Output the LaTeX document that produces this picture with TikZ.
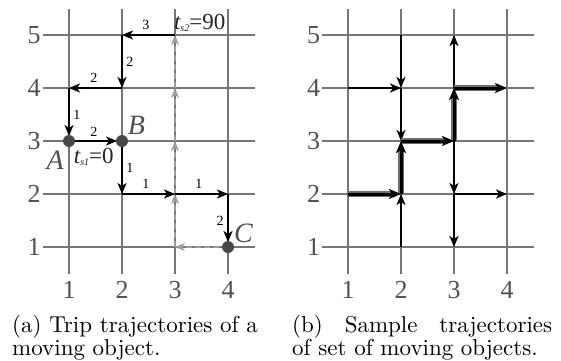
\documentclass[tikz,border=0pt]{standalone}
\usepackage{fontspec}
\newfontfamily\lab{Liberation Serif}
\newfontfamily\capfont{lmroman10-regular}[Extension=.otf]
\usetikzlibrary{arrows.meta}
\definecolor{gridc}{HTML}{767676}
\definecolor{labc}{HTML}{505050}
\definecolor{dotc}{HTML}{484848}
\definecolor{dashc}{HTML}{9C9C9C}
\definecolor{haloc}{HTML}{6E6E6E}
\tikzset{
  gridline/.style={draw=gridc, line width=1.4pt},
  arr/.style={draw=black, line width=2.3pt, -{Stealth[length=11pt,width=9pt,inset=3pt]}},
  garr/.style={draw=dashc, line width=1.5pt, dash pattern=on 6pt off 3pt, -{Stealth[length=10pt,width=8pt,inset=3pt]}},
  halo/.style={draw=haloc, line width=5.5pt, shorten >=9pt},
  tharr/.style={draw=black, line width=3pt, -{Stealth[length=12pt,width=10pt,inset=3pt]}},
  axl/.style={font=\lab\fontsize{26}{26}\selectfont, text=labc, inner sep=0pt},
  ptl/.style={font=\lab\itshape\fontsize{28}{28}\selectfont, text=labc, inner sep=0pt},
  sml/.style={font=\lab\fontsize{14}{14}\selectfont, text=black, inner sep=0pt},
  tl/.style={font=\lab\fontsize{23}{23}\selectfont, text=black!85, inner sep=0pt},
  dot/.style={circle, fill=dotc, inner sep=0pt, minimum size=12pt},
  captext/.style={font=\capfont\fontsize{23}{23}\selectfont, inner sep=0pt,
    anchor=base west, text height=12pt, text depth=0pt},
}
\begin{document}
\begin{tikzpicture}[x=1pt,y=1pt]
\useasboundingbox (0,0) rectangle (561,360);
% ---------------- left panel ----------------
\begin{scope}[shift={(16pt,60pt)},x=53pt,y=53pt]
  \foreach \i in {1,...,4} \draw[gridline] (\i,0.5) -- (\i,5.5);
  \foreach \j in {1,...,5} \draw[gridline] (0.5,\j) -- (4.5,\j);
  \foreach \i in {1,...,4}{\foreach \j in {1,...,5}{\coordinate (a\i\j) at (\i,\j);}}
  \foreach \j in {1,...,5} \node[axl, anchor=east] (ay\j) at (0.47,\j) {\j};
  \foreach \i in {1,...,4} \node[axl, anchor=base] (ax\i) at (\i,0.02) {\i};
  % grey dashed trip
  \draw[garr] (a41) -- (a31);
  \draw[garr] (a31) -- (a32);
  \draw[garr] (a32) -- (a33);
  \draw[garr] (a33) -- (a34);
  \draw[garr] (a34) -- (a35);
  % black trips
  \draw[arr, shorten >=5pt] (a13) -- (a23);
  \draw[arr] (a23) -- (a22);
  \draw[arr] (a22) -- (a32);
  \draw[arr] (a32) -- (a42);
  \draw[arr, shorten >=5pt] (a42) -- (a41);
  \draw[arr] (a35) -- (a25);
  \draw[arr] (a25) -- (a24);
  \draw[arr] (a24) -- (a14);
  \draw[arr, shorten >=5pt] (a14) -- (a13);
  % dots
  \node[dot] (A) at (a13) {};
  \node[dot] (B) at (a23) {};
  \node[dot] (C) at (a41) {};
  \node[ptl] (lA) at (0.74,2.64) {A};
  \node[ptl] (lB) at (2.27,3.30) {B};
  \node[ptl] (lC) at (4.29,1.26) {C};
  % edge weights
  \node[sml] (w1) at (2.45,5.19) {3};
  \node[sml] (w2) at (2.15,4.49) {2};
  \node[sml] (w3) at (1.47,4.19) {2};
  \node[sml] (w4) at (1.15,3.49) {1};
  \node[sml] (w5) at (1.47,3.17) {2};
  \node[sml] (w6) at (2.15,2.49) {1};
  \node[sml] (w7) at (2.45,2.19) {1};
  \node[sml] (w8) at (3.45,2.19) {1};
  \node[sml] (w9) at (3.85,1.49) {2};
  % times
  \node[tl, anchor=base west] (ts2) at (2.98,5.11)
    {\textit{t}\kern-0.5pt\raisebox{-2.5pt}{\fontsize{10}{10}\selectfont\textit{s2}}=90};
  \node[tl, anchor=base west] (ts1) at (1.09,2.58)
    {\textit{t}\kern-0.5pt\raisebox{-2.5pt}{\fontsize{10}{10}\selectfont\textit{s1}}=0};
\end{scope}
% ---------------- right panel ----------------
\begin{scope}[shift={(295pt,60pt)},x=53pt,y=53pt]
  \foreach \i in {1,...,4} \draw[gridline] (\i,0.5) -- (\i,5.5);
  \foreach \j in {1,...,5} \draw[gridline] (0.5,\j) -- (4.5,\j);
  \foreach \i in {1,...,4}{\foreach \j in {1,...,5}{\coordinate (b\i\j) at (\i,\j);}}
  \foreach \j in {1,...,5} \node[axl, anchor=east] (by\j) at (0.48,\j) {\j};
  \foreach \i in {1,...,4} \node[axl, anchor=base] (bx\i) at (\i,0.02) {\i};
  % normal trajectories
  \draw[arr] (b14) -- (b24);
  \draw[arr] (b25) -- (b24);
  \draw[arr] (b24) -- (b23);
  \draw[arr] (b34) -- (b35);
  \draw[arr] (b33) -- (b32);
  \draw[arr] (b32) -- (b42);
  \draw[arr] (b32) -- (b31);
  \draw[arr] (b21) -- (b22);
  % highlighted trajectory
  \draw[halo] (b12) -- (b22);
  \draw[halo] (b22) -- (b23);
  \draw[halo] (b23) -- (b33);
  \draw[halo] (b33) -- (b34);
  \draw[halo] (b34) -- (b44);
  \draw[tharr] (b12) -- (b22);
  \draw[tharr] (b22) -- (b23);
  \draw[tharr] (b23) -- (b33);
  \draw[tharr] (b33) -- (b34);
  \draw[tharr] (b34) -- (b44);
\end{scope}
% ---------------- captions ----------------
\node[captext] (capa1) at (12,27.5) {(a) Trip trajectories of a};
\node[captext] (capa2) at (12,4.5) {moving object.};
\node[captext] (capb1) at (292,27.5) {\makebox[260pt][s]{(b) Sample trajectories}};
\node[captext] (capb2) at (292,4.5) {of set of moving objects.};
\end{tikzpicture}
\end{document}
